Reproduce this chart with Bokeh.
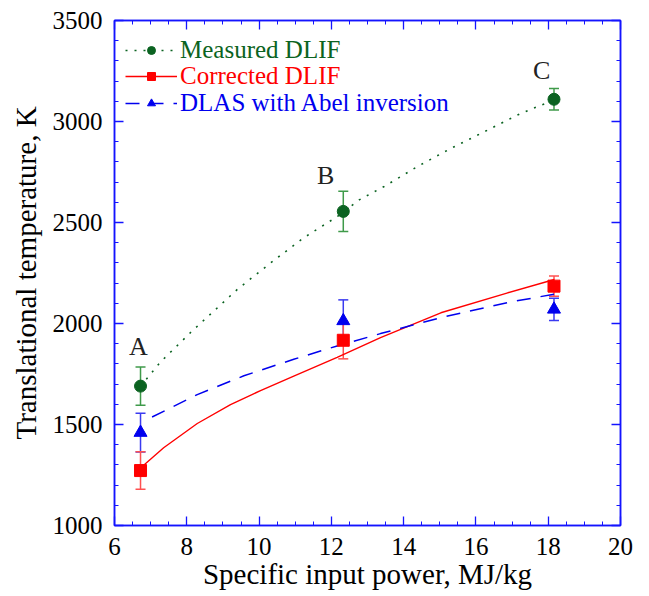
from bokeh.plotting import figure
from bokeh.models import (ColumnDataSource, Whisker, TeeHead, LinearAxis, Legend,
                          LegendItem, Label, Range1d, SingleIntervalTicker)
from bokeh.embed import file_html
from bokeh.resources import INLINE

# ---- data ----
x_pts = [6.72, 12.33, 18.16]
meas_y = [1690, 2555, 3110]
meas_err = [95, 100, 53]
corr_y = [1272, 1917, 2185]
corr_err = [93, 92, 50]
dlas_y = [1460, 2013, 2070]
dlas_err = [96, 104, 55]

meas_fit_x = [6.72, 7.0, 7.27, 8.15, 8.8, 9.4, 10.32, 11.24, 12.17, 12.77, 13.46, 14.38, 15.31, 16.23, 17.15, 17.8, 18.16]
meas_fit_y = [1690, 1750, 1809, 1963, 2070, 2169, 2300, 2425, 2530, 2612, 2678, 2777, 2867, 2949, 3032, 3081, 3105]
corr_fit_x = [6.72, 7.36, 8.29, 9.21, 10.04, 10.96, 12.16, 13.36, 15.03, 16.88, 18.17]
corr_fit_y = [1285, 1385, 1505, 1598, 1668, 1740, 1832, 1930, 2053, 2152, 2218]
dlas_fit_x = [7.04, 8.29, 9.58, 10.96, 12.16, 13.36, 15.03, 16.88, 18.16]
dlas_fit_y = [1537, 1648, 1741, 1823, 1889, 1950, 2029, 2104, 2145]

point_labels = ["A", "B", "C"]
label_x = [6.66, 11.84, 17.82]
label_y = [1888, 2731, 3253]

GREEN = "#0b6321"
GREEN_EB = "#3f9a4a"
RED = "#ff0000"
RED_EB = "#ff5050"
BLUE = "#0000ee"
BLUE_EB = "#3a3af0"
AXIS = "#1414ff"
FONT = "Liberation Serif"

p = figure(width=638, height=592, output_backend="svg", toolbar_location=None,
           x_range=Range1d(6, 20), y_range=Range1d(1000, 3500),
           min_border_left=114, min_border_right=18, min_border_top=20, min_border_bottom=65)
p.xgrid.visible = False
p.ygrid.visible = False
p.outline_line_color = AXIS
p.outline_line_width = 1.5
p.background_fill_color = "white"
p.border_fill_color = "white"

p.xaxis.ticker = SingleIntervalTicker(interval=2, num_minor_ticks=4)
p.yaxis.ticker = SingleIntervalTicker(interval=500, num_minor_ticks=5)


def style_axis(ax, labels=True):
    ax.axis_line_color = AXIS
    ax.axis_line_width = 1.5
    ax.major_tick_line_color = AXIS
    ax.minor_tick_line_color = AXIS
    ax.major_tick_line_width = 1.3
    ax.minor_tick_line_width = 1.0
    ax.major_tick_in = 9
    ax.major_tick_out = 0
    ax.minor_tick_in = 4
    ax.minor_tick_out = 0
    ax.major_label_text_font = FONT
    ax.major_label_text_font_size = "25px"
    ax.major_label_text_color = "black" if labels else None
    ax.axis_label_text_font = FONT
    ax.axis_label_text_font_size = "29px"
    ax.axis_label_text_font_style = "normal"
    ax.axis_label_text_color = "black"


for ax in p.xaxis + p.yaxis:
    style_axis(ax)
p.xaxis.axis_label = "Specific input power, MJ/kg"
p.yaxis.axis_label = "Translational temperature, K"
p.xaxis.major_label_standoff = 12
p.xaxis.axis_label_standoff = 0
p.yaxis.major_label_standoff = 12
p.yaxis.axis_label_standoff = 8

top = LinearAxis(ticker=SingleIntervalTicker(interval=2, num_minor_ticks=4))
right = LinearAxis(ticker=SingleIntervalTicker(interval=500, num_minor_ticks=5))
for ax in (top, right):
    style_axis(ax, labels=False)
    ax.major_label_text_font_size = "0px"
    ax.major_label_standoff = 0
p.add_layout(top, "above")
p.add_layout(right, "right")

# fit curves
l_meas = p.line(meas_fit_x, meas_fit_y, line_color=GREEN, line_width=1.6, line_dash="2 7")
l_corr = p.line(corr_fit_x, corr_fit_y, line_color=RED, line_width=1.4)
l_dlas = p.line(dlas_fit_x, dlas_fit_y, line_color=BLUE, line_width=1.5, line_dash="14 10")


# error bars
def add_err(ys, errs, color):
    src = ColumnDataSource(dict(x=x_pts,
                                lo=[y - e for y, e in zip(ys, errs)],
                                hi=[y + e for y, e in zip(ys, errs)]))
    w = Whisker(source=src, base="x", lower="lo", upper="hi", line_color=color, line_width=1.5,
                upper_head=TeeHead(size=10, line_color=color, line_width=1.5),
                lower_head=TeeHead(size=10, line_color=color, line_width=1.5))
    p.add_layout(w)


add_err(meas_y, meas_err, GREEN_EB)
add_err(dlas_y, dlas_err, BLUE_EB)
add_err(corr_y, corr_err, RED_EB)

m_meas = p.scatter(x_pts, meas_y, marker="circle", size=12, fill_color=GREEN, line_color=GREEN)
m_dlas = p.scatter(x_pts, dlas_y, marker="triangle", size=13, fill_color=BLUE, line_color=BLUE)
m_corr = p.scatter(x_pts, corr_y, marker="square", size=12, fill_color=RED, line_color=RED)

# point labels
for t, lx, ly in zip(point_labels, label_x, label_y):
    p.add_layout(Label(x=lx, y=ly, text=t, text_font=FONT, text_font_size="26px",
                       text_align="center", text_baseline="middle", text_color="#222222"))

# legends (one per entry, own text colour)
entries = [("Measured DLIF", [l_meas, m_meas], GREEN, 461),
           ("Corrected DLIF", [l_corr, m_corr], RED, 435),
           ("DLAS with Abel inversion", [l_dlas, m_dlas], BLUE, 408)]
for lab, rs, col, ypos in entries:
    lg = Legend(items=[LegendItem(label=lab, renderers=rs)], location=(11, ypos),
                label_text_color=col, label_text_font=FONT, label_text_font_size="25px",
                glyph_width=52, glyph_height=20, label_standoff=3, padding=0, margin=0,
                spacing=0, border_line_color=None, background_fill_alpha=0,
                label_height=20)
    p.add_layout(lg, "center")

open("out.html", "w").write(file_html(p, INLINE))
